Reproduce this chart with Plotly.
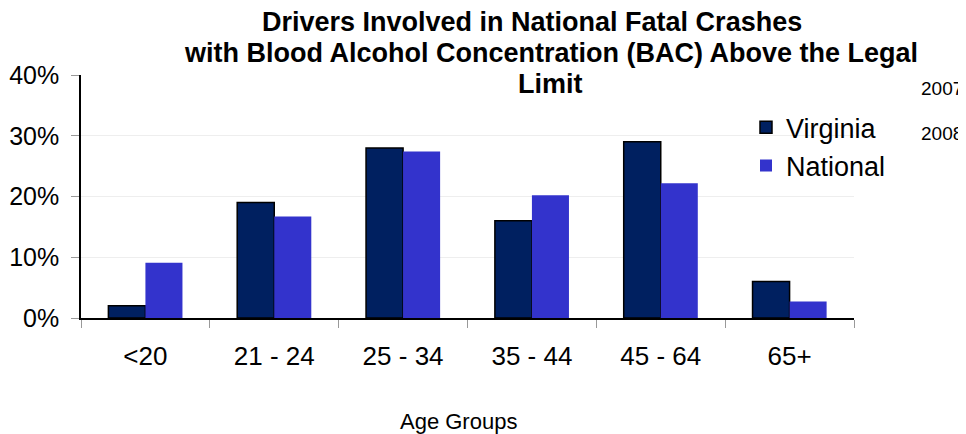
import plotly.graph_objects as go

categories = ["<20", "21 - 24", "25 - 34", "35 - 44", "45 - 64", "65+"]
virginia = [0.02, 0.19, 0.28, 0.16, 0.29, 0.06]
national = [0.091, 0.167, 0.274, 0.202, 0.222, 0.027]
series_names = ["Virginia", "National"]
title_lines = ["Drivers Involved in National Fatal Crashes",
               "with Blood Alcohol Concentration (BAC) Above the Legal",
               "Limit"]
year_labels = ["2007", "2008"]
x_title = "Age Groups"

FONT = "Liberation Sans, Arial, sans-serif"
OFF = 8  # page body margin
W, H = 966 - OFF, 434 - OFF
PL, PR, PT, PB = 81, 854, 74.7, 318.3  # plot area in page pixels
L, R, T, B = PL - OFF, W - (PR - OFF), PT - OFF, H - (PB - OFF)
ph = PB - PT
pw = PR - PL

def py(p):
    return (PB - p) / ph

def px(p):
    return (p - PL) / pw

fig = go.Figure()
fig.add_trace(go.Bar(x=categories, y=virginia, name=series_names[0],
                     marker=dict(color="#002060", line=dict(color="#000000", width=1.5))))
fig.add_trace(go.Bar(x=categories, y=national, name=series_names[1],
                     marker=dict(color="#3333CC", line=dict(width=0))))

annotations = []
for txt, xx, yy in zip(title_lines, [532, 551, 550], [22, 53, 84]):
    annotations.append(dict(text="<b>%s</b>" % txt, x=px(xx), y=py(yy), xref="paper", yref="paper",
                            xanchor="center", yanchor="middle", showarrow=False,
                            font=dict(family=FONT, size=27, color="#000000")))
for txt, yy in zip(year_labels, [88.5, 133.5]):
    annotations.append(dict(text=txt, x=px(942), y=py(yy), xref="paper", yref="paper",
                            xanchor="center", yanchor="middle", showarrow=False,
                            font=dict(family=FONT, size=19, color="#000000")))
annotations.append(dict(text=x_title, x=px(458), y=py(422), xref="paper", yref="paper",
                        xanchor="center", yanchor="middle", showarrow=False,
                        font=dict(family=FONT, size=22, color="#000000")))

fig.update_layout(
    width=W, height=H,
    margin=dict(l=L, r=R, t=T, b=B, pad=0, autoexpand=False),
    paper_bgcolor="white", plot_bgcolor="white",
    barmode="group", bargap=0.425, bargroupgap=0,
    font=dict(family=FONT, color="#000000"),
    showlegend=True,
    legend=dict(x=px(746), y=py(103), xanchor="left", yanchor="top",
                font=dict(family=FONT, size=27, color="#000000"),
                bgcolor="rgba(0,0,0,0)", itemwidth=30, tracegroupgap=0),
    annotations=annotations,
    xaxis=dict(showline=True, linecolor="#000000", linewidth=1.5, automargin=False,
               ticks="outside", tickson="boundaries", ticklen=8, tickcolor="#999999",
               tickfont=dict(family=FONT, size=26, color="#000000"),
               ticklabelstandoff=14, showgrid=False),
    yaxis=dict(range=[0, 0.4], dtick=0.1, tickformat=".0%", automargin=False,
               showline=True, linecolor="#000000", linewidth=1.5,
               ticks="outside", ticklen=8, tickcolor="#999999",
               tickfont=dict(family=FONT, size=25, color="#000000"),
               ticklabelstandoff=7,
               showgrid=True, gridcolor="#EEEEEE", gridwidth=1, zeroline=False),
)

fig.write_html("out.html")
